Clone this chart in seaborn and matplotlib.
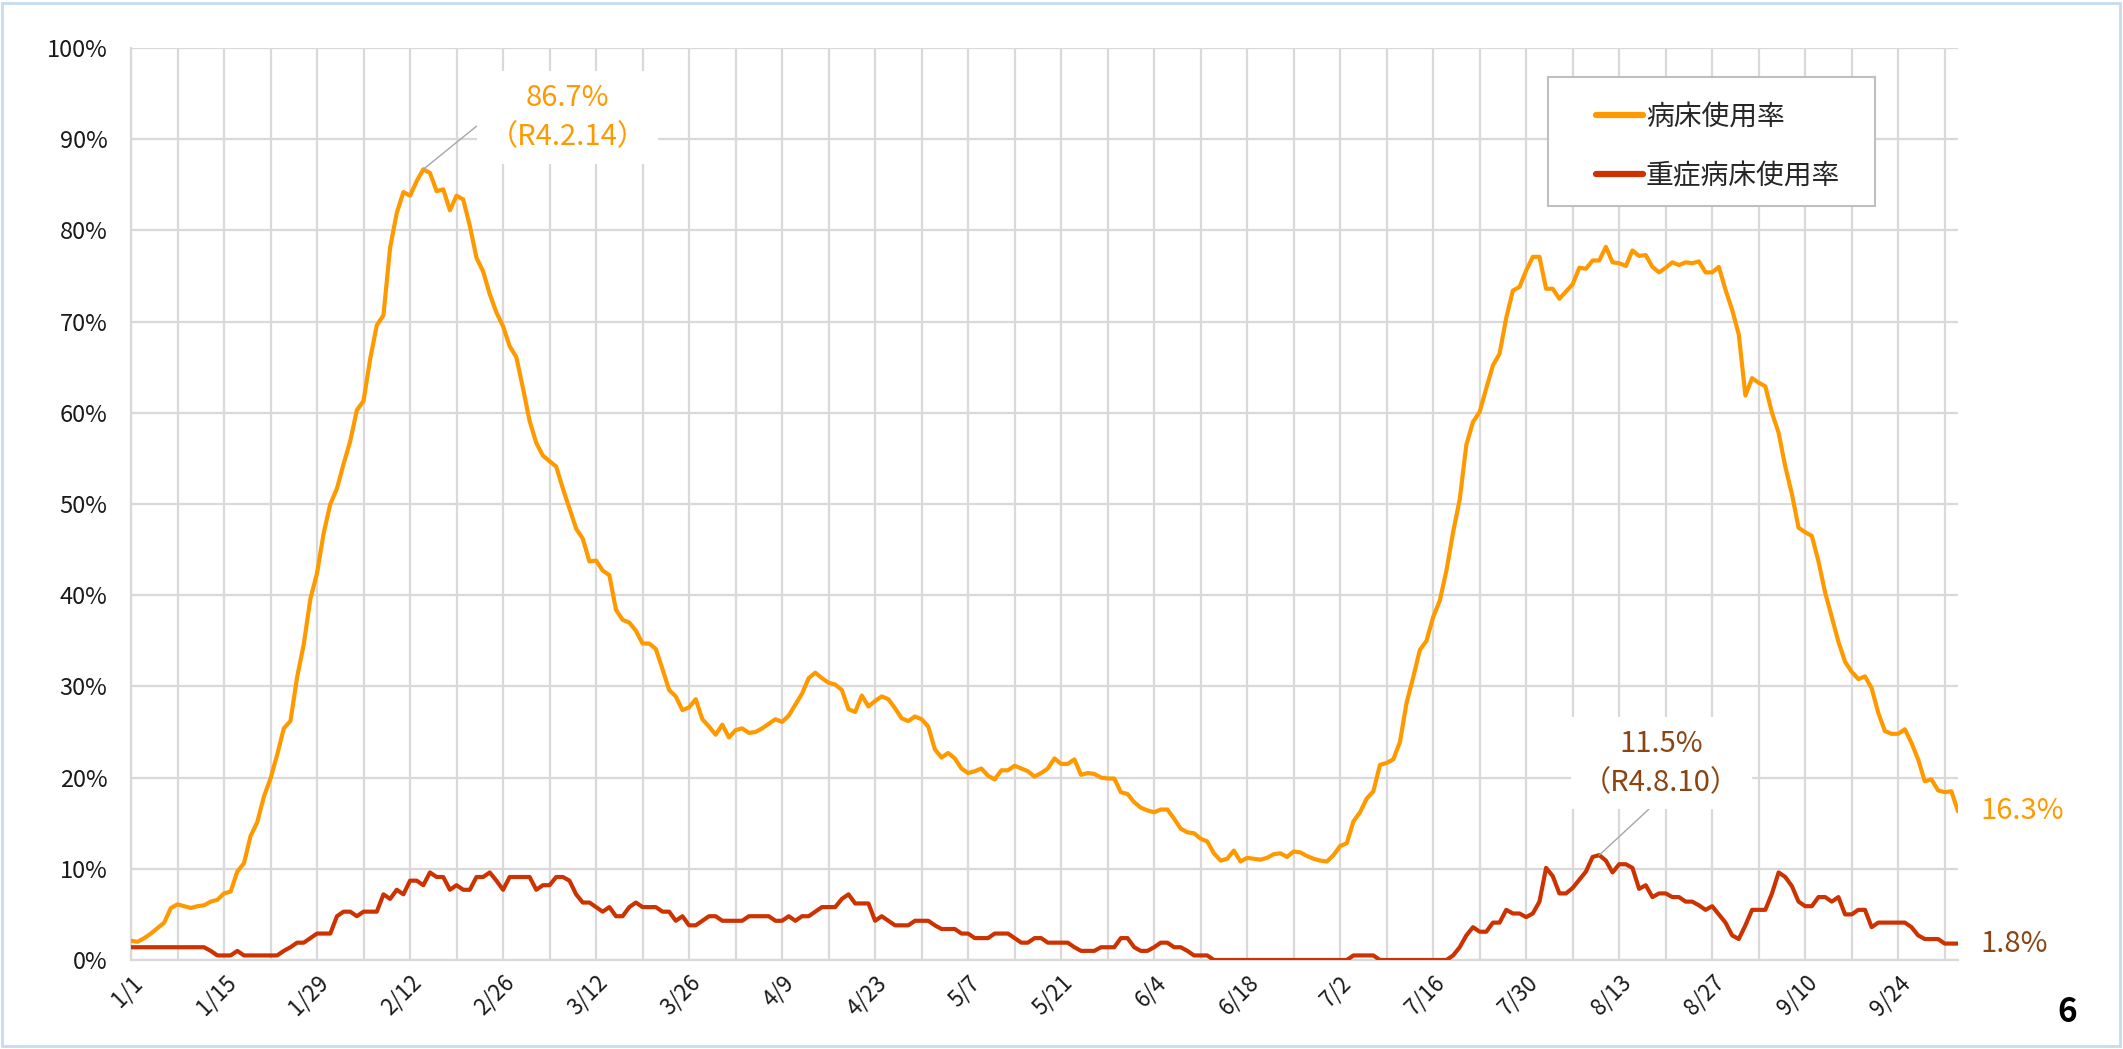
import matplotlib
matplotlib.use("Agg")  #no display
import matplotlib.pyplot as plt
import matplotlib.patches as patches
import seaborn as sns
import pandas as pd
import numpy as np

#Daily values from 1/1 (R4), one row per week
bed_rate = [
    2.1, 2.0, 2.4, 2.9, 3.5, 4.1, 5.7,
    6.1, 5.9, 5.7, 5.9, 6.0, 6.4, 6.6,
    7.3, 7.5, 9.7, 10.6, 13.6, 15.1, 17.9,
    19.9, 22.5, 25.4, 26.2, 31.0, 34.6, 39.6,
    42.4, 46.8, 50.0, 51.7, 54.4, 56.9, 60.3,
    61.3, 65.9, 69.6, 70.7, 78.1, 81.9, 84.2,
    83.8, 85.4, 86.7, 86.3, 84.3, 84.5, 82.2,
    83.8, 83.4, 80.5, 77.0, 75.5, 73.0, 71.0,
    69.5, 67.3, 66.1, 62.7, 59.1, 56.7, 55.3,
    54.7, 54.1, 51.7, 49.5, 47.3, 46.2, 43.7,
    43.8, 42.7, 42.2, 38.4, 37.3, 37.0, 36.1,
    34.7, 34.7, 34.1, 31.9, 29.6, 28.9, 27.4,
    27.7, 28.6, 26.4, 25.6, 24.7, 25.8, 24.4,
    25.2, 25.4, 24.9, 25.0, 25.4, 25.9, 26.4,
    26.1, 26.8, 28.0, 29.2, 30.9, 31.5, 30.9,
    30.4, 30.2, 29.6, 27.5, 27.2, 29.0, 27.8,
    28.4, 28.9, 28.6, 27.6, 26.5, 26.2, 26.7,
    26.4, 25.6, 23.1, 22.2, 22.7, 22.1, 21.0,
    20.5, 20.7, 21.0, 20.2, 19.8, 20.8, 20.8,
    21.3, 21.0, 20.7, 20.1, 20.5, 21.0, 22.1,
    21.5, 21.5, 22.0, 20.3, 20.5, 20.4, 20.0,
    19.9, 19.9, 18.4, 18.2, 17.3, 16.7, 16.4,
    16.2, 16.5, 16.5, 15.5, 14.4, 14.0, 13.9,
    13.3, 13.0, 11.7, 10.9, 11.1, 12.0, 10.8,
    11.2, 11.1, 11.0, 11.2, 11.6, 11.7, 11.3,
    11.9, 11.8, 11.4, 11.1, 10.9, 10.8, 11.5,
    12.5, 12.8, 15.2, 16.2, 17.7, 18.5, 21.4,
    21.6, 22.0, 23.9, 28.2, 31.0, 34.0, 35.0,
    37.6, 39.4, 42.7, 46.9, 50.5, 56.5, 59.0,
    60.1, 62.7, 65.2, 66.5, 70.4, 73.4, 73.8,
    75.6, 77.1, 77.1, 73.6, 73.6, 72.5, 73.3,
    74.1, 75.9, 75.8, 76.7, 76.7, 78.2, 76.5,
    76.4, 76.1, 77.8, 77.2, 77.3, 76.0, 75.4,
    75.9, 76.5, 76.2, 76.5, 76.4, 76.6, 75.4,
    75.4, 76.0, 73.5, 71.3, 68.6, 61.9, 63.8,
    63.3, 62.9, 60.0, 57.8, 54.1, 51.1, 47.4,
    46.9, 46.5, 43.7, 40.3, 37.6, 34.9, 32.7,
    31.6, 30.8, 31.1, 29.8, 27.1, 25.1, 24.8,
    24.8, 25.3, 23.8, 22.0, 19.6, 19.8, 18.6,
    18.4, 18.5, 16.3,
]

severe_rate = [
    1.4, 1.4, 1.4, 1.4, 1.4, 1.4, 1.4,
    1.4, 1.4, 1.4, 1.4, 1.4, 1.0, 0.5,
    0.5, 0.5, 1.0, 0.5, 0.5, 0.5, 0.5,
    0.5, 0.5, 1.0, 1.4, 1.9, 1.9, 2.4,
    2.9, 2.9, 2.9, 4.8, 5.3, 5.3, 4.8,
    5.3, 5.3, 5.3, 7.2, 6.7, 7.7, 7.2,
    8.7, 8.7, 8.2, 9.6, 9.1, 9.1, 7.7,
    8.2, 7.7, 7.7, 9.1, 9.1, 9.6, 8.7,
    7.7, 9.1, 9.1, 9.1, 9.1, 7.7, 8.2,
    8.2, 9.1, 9.1, 8.7, 7.2, 6.3, 6.3,
    5.8, 5.3, 5.8, 4.8, 4.8, 5.8, 6.3,
    5.8, 5.8, 5.8, 5.3, 5.3, 4.3, 4.8,
    3.8, 3.8, 4.3, 4.8, 4.8, 4.3, 4.3,
    4.3, 4.3, 4.8, 4.8, 4.8, 4.8, 4.3,
    4.3, 4.8, 4.3, 4.8, 4.8, 5.3, 5.8,
    5.8, 5.8, 6.7, 7.2, 6.2, 6.2, 6.2,
    4.3, 4.8, 4.3, 3.8, 3.8, 3.8, 4.3,
    4.3, 4.3, 3.8, 3.4, 3.4, 3.4, 2.9,
    2.9, 2.4, 2.4, 2.4, 2.9, 2.9, 2.9,
    2.4, 1.9, 1.9, 2.4, 2.4, 1.9, 1.9,
    1.9, 1.9, 1.4, 1.0, 1.0, 1.0, 1.4,
    1.4, 1.4, 2.4, 2.4, 1.4, 1.0, 1.0,
    1.4, 1.9, 1.9, 1.4, 1.4, 1.0, 0.5,
    0.5, 0.5, 0.0, 0.0, 0.0, 0.0, 0.0,
    0.0, 0.0, 0.0, 0.0, 0.0, 0.0, 0.0,
    0.0, 0.0, 0.0, 0.0, 0.0, 0.0, 0.0,
    0.0, 0.0, 0.5, 0.5, 0.5, 0.5, 0.0,
    0.0, 0.0, 0.0, 0.0, 0.0, 0.0, 0.0,
    0.0, 0.0, 0.0, 0.5, 1.4, 2.7, 3.6,
    3.1, 3.1, 4.1, 4.1, 5.5, 5.1, 5.1,
    4.7, 5.1, 6.4, 10.1, 9.2, 7.3, 7.3,
    7.9, 8.8, 9.7, 11.3, 11.5, 10.9, 9.6,
    10.5, 10.5, 10.1, 7.8, 8.2, 6.9, 7.3,
    7.3, 6.9, 6.9, 6.4, 6.4, 6.0, 5.5,
    5.9, 5.0, 4.1, 2.7, 2.3, 3.8, 5.5,
    5.5, 5.5, 7.3, 9.6, 9.1, 8.1, 6.4,
    5.9, 5.9, 6.9, 6.9, 6.4, 6.9, 5.0,
    5.0, 5.5, 5.5, 3.6, 4.1, 4.1, 4.1,
    4.1, 4.1, 3.6, 2.7, 2.3, 2.3, 2.3,
    1.8, 1.8, 1.8,
]

tick_labels = ["1/1", "1/15", "1/29", "2/12", "2/26", "3/12", "3/26", "4/9",
               "4/23", "5/7", "5/21", "6/4", "6/18", "7/2", "7/16", "7/30",
               "8/13", "8/27", "9/10", "9/24"]

series_names = ["病床使用率", "重症病床使用率"]
peak_dates = ["（R4.2.14）", "（R4.8.10）"]

ORANGE = "#FF9900"
RED = "#CC3300"
BROWN = "#8A4513"
GRID = "#D9D9D9"

sns.set_theme(style="white")
plt.rcParams["font.family"] = ["Noto Sans CJK JP", "DejaVu Sans"]

W, H = 2123, 1049
fig = plt.figure(figsize=(W / 100, H / 100), dpi=100)
ax = fig.add_axes([131 / W, 1 - 960 / H, 1827 / W, 912 / H])

days = np.arange(len(bed_rate))
df = pd.DataFrame({"day": days, series_names[0]: bed_rate, series_names[1]: severe_rate})
long_df = df.melt("day", var_name="series", value_name="rate")

sns.lineplot(data=long_df, x="day", y="rate", hue="series",
             palette={series_names[0]: ORANGE, series_names[1]: RED},
             linewidth=3, ax=ax, zorder=3)

#Axes and grid
ax.set_xlim(0, days[-1])
ax.set_ylim(0, 100)
ax.set_xticks(np.arange(0, len(days), 14))
ax.set_xticks(np.arange(0, len(days), 7), minor=True)
ax.set_xticklabels(tick_labels, rotation=45, ha="right", rotation_mode="anchor")
ax.set_yticks(np.arange(0, 101, 10))
ax.set_yticklabels([f"{v}%" for v in range(0, 101, 10)])
ax.tick_params(axis="y", length=0, pad=17, labelsize=17, labelcolor="#1a1a1a")
ax.tick_params(axis="x", which="both", length=0, pad=8, labelsize=16, labelcolor="#1a1a1a")
ax.grid(axis="x", which="both", color=GRID, lw=1.6)
ax.grid(axis="y", which="major", color=GRID, lw=1.6)
ax.set_axisbelow(True)
for s in ["top", "right"]:
    ax.spines[s].set_visible(False)
for s in ["left", "bottom"]:
    ax.spines[s].set_color(GRID)
    ax.spines[s].set_linewidth(1.6)
ax.set_xlabel("")
ax.set_ylabel("")

#Legend (frame drawn as a separate box)
handles, labels = ax.get_legend_handles_labels()
leg = ax.legend(handles, labels, loc="upper left", frameon=False, fontsize=20,
                bbox_to_anchor=(1582 / W, 1 - 88 / H), bbox_transform=fig.transFigure,
                borderpad=0, handlelength=1.7, handletextpad=0.1, labelspacing=1.05)
for line in leg.get_lines():
    line.set_linewidth(4.5)
    line.set_solid_capstyle("round")
leg.set_zorder(6)
ax.add_patch(patches.Rectangle((1548 / W, 1 - 206 / H), 327 / W, 129 / H,
                               transform=fig.transFigure, fc="white", ec="#BFBFBF",
                               lw=1.5, zorder=5, clip_on=False))

#Peak annotations
i_bed = int(np.argmax(bed_rate))
ax.annotate(f"{bed_rate[i_bed]}%\n{peak_dates[0]}", xy=(days[i_bed], bed_rate[i_bed]),
            xytext=(144, 52), textcoords="offset pixels", ha="center", va="center",
            fontsize=21, color=ORANGE, linespacing=1.4, zorder=6,
            bbox=dict(boxstyle="square,pad=0.4", fc="white", ec="none"),
            arrowprops=dict(arrowstyle="-", color="#A6A6A6", lw=1.0, relpos=(0, 0.5),
                            shrinkA=0, shrinkB=0,
                            connectionstyle="angle,angleA=0,angleB=39,rad=0"))

i_sev = int(np.argmax(severe_rate))
ax.annotate(f"{severe_rate[i_sev]}%\n{peak_dates[1]}", xy=(days[i_sev], severe_rate[i_sev]),
            xytext=(62, 92), textcoords="offset pixels", ha="center", va="center",
            fontsize=21, color=BROWN, linespacing=1.4, zorder=6,
            bbox=dict(boxstyle="square,pad=0.4", fc="white", ec="none"),
            arrowprops=dict(arrowstyle="-", color="#A6A6A6", lw=1.0, relpos=(0.5, 0),
                            shrinkA=0, shrinkB=0))

#Latest values
ax.annotate(f"{bed_rate[-1]}%", xy=(days[-1], bed_rate[-1]), xytext=(22, 0),
            textcoords="offset pixels", va="center", ha="left", fontsize=21,
            color=ORANGE, annotation_clip=False)
ax.annotate(f"{severe_rate[-1]}%", xy=(days[-1], severe_rate[-1]), xytext=(22, 0),
            textcoords="offset pixels", va="center", ha="left", fontsize=21,
            color=BROWN, annotation_clip=False)

#Page number and outer border
fig.text(2067 / W, 1 - 1012 / H, "6", fontsize=24, fontweight="bold",
         ha="center", va="center", color="black")
fig.add_artist(patches.Rectangle((2 / W, 3 / H), 2118 / W, 1043 / H,
                                 transform=fig.transFigure, fill=False,
                                 ec="#C5DCF0", lw=2))

fig.savefig("out.png", dpi=100)
plt.close(fig)
